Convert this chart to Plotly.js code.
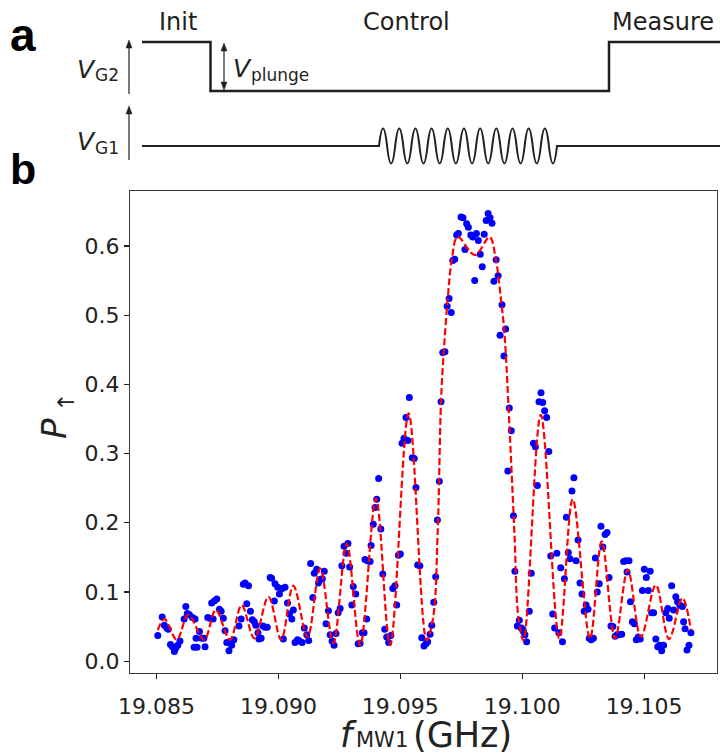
<!DOCTYPE html>
<html>
<head>
<meta charset="utf-8">
<script src="https://cdn.plot.ly/plotly-3.0.1.min.js"></script>
<style>html,body{margin:0;padding:0;background:#fff;}#chart{width:720px;height:755px;}</style>
</head>
<body>
<div id="chart"></div>
<script>
// ---------- measured data (panel b) ----------
const freqGHz = [
 19.08505,19.08523,19.08532,19.08542,19.08548,19.08557,19.08565,19.08573,19.08579,19.08587,
 19.08596,19.08613,19.08620,19.08626,19.08635,19.08647,19.08654,19.08658,19.08662,19.08666,
 19.08676,19.08685,19.08694,19.08699,19.08710,19.08718,19.08726,19.08732,19.08737,19.08747,
 19.08758,19.08765,19.08774,19.08781,19.08788,19.08797,19.08799,19.08808,19.08817,19.08838,
 19.08847,19.08856,19.08863,19.08870,19.08877,19.08885,19.08893,19.08901,19.08907,19.08916,
 19.08920,19.08929,19.08936,19.08945,19.08954,19.08966,19.08972,19.08983,19.08986,19.08997,
 19.09004,
 19.09015,19.09020,19.09027,19.09037,19.09045,19.09055,19.09061,19.09068,19.09078,19.09086,
 19.09097,19.09106,19.09116,19.09124,19.09132,19.09141,19.09147,19.09157,19.09164,19.09171,
 19.09180,19.09188,19.09195,19.09205,19.09212,19.09220,19.09228,19.09236,19.09245,19.09253,
 19.09260,19.09269,19.09277,19.09285,19.09292,19.09301,19.09307,19.09317,19.09327,19.09335,
 19.09344,19.09351,19.09355,19.09362,19.09365,19.09376,19.09380,19.09389,19.09396,19.09403,
 19.09411,19.09420,19.09428,19.09436,19.09444,19.09452,19.09461,19.09469,19.09478,19.09485,
 19.09492,19.09500,19.09507,19.09515,19.09523,19.09531,19.09537,
 19.09549,19.09557,19.09564,19.09571,19.09580,19.09588,19.09597,19.09605,19.09612,19.09622,
 19.09629,19.09637,19.09645,19.09652,19.09660,19.09667,19.09674,19.09683,19.09692,19.09700,
 19.09709,19.09715,19.09723,19.09731,19.09738,19.09749,19.09757,19.09765,19.09772,19.09779,
 19.09789,19.09797,19.09805,19.09812,19.09820,19.09828,19.09836,19.09844,19.09852,19.09860,
 19.09868,19.09876,19.09884,19.09893,19.09901,19.09909,19.09917,19.09925,19.09932,19.09941,
 19.09947,19.09955,19.09964,19.09970,19.09980,19.09988,19.09996,19.10002,19.10005,
 19.10011,19.10018,19.10029,19.10037,19.10046,19.10054,19.10062,19.10069,19.10077,19.10084,
 19.10092,19.10100,19.10109,19.10117,19.10125,19.10133,19.10142,19.10150,19.10158,19.10165,
 19.10173,19.10181,19.10189,19.10196,19.10204,19.10212,19.10221,19.10229,19.10237,19.10245,
 19.10254,19.10262,19.10270,19.10275,19.10283,19.10292,19.10300,19.10308,19.10316,19.10323,
 19.10331,19.10340,19.10348,19.10356,19.10364,19.10372,19.10381,19.10389,
 19.10397,19.10408,19.10416,19.10425,19.10430,19.10438,19.10444,19.10452,19.10460,19.10468,
 19.10476,19.10484,19.10493,19.10501,19.10509,19.10517,19.10525,19.10531,19.10539,19.10548,
 19.10556,19.10564,19.10572,19.10580,19.10589,19.10597,19.10603,19.10613,19.10621,19.10630,
 19.10637,19.10646,19.10657,19.10662,19.10668,19.10676,19.10684,19.10692
];
const pUp = [
 0.037,0.064,0.052,0.048,0.046,0.024,0.021,0.014,0.019,0.023,
 0.029,0.061,0.079,0.069,0.067,0.063,0.020,0.061,0.033,0.020,
 0.043,0.033,0.033,0.021,0.063,0.062,0.084,0.061,0.087,0.090,
 0.075,0.072,0.062,0.044,0.027,0.015,0.028,0.023,0.031,0.051,
 0.061,0.111,0.113,0.083,0.109,0.072,0.060,0.057,0.052,0.041,
 0.032,0.033,0.051,0.049,0.049,0.121,0.120,0.087,0.112,0.107,
 0.097,
 0.105,0.032,0.107,0.084,0.068,0.061,0.074,0.027,0.031,0.029,
 0.027,0.048,0.038,0.030,0.141,0.092,0.127,0.133,0.113,0.118,
 0.119,0.130,0.054,0.073,0.038,0.029,0.023,0.040,0.070,0.076,
 0.138,0.166,0.156,0.170,0.136,0.081,0.108,0.097,0.025,0.026,
 0.041,0.041,0.147,0.061,0.145,0.144,0.167,0.198,0.222,0.234,
 0.264,0.191,0.126,0.046,0.035,0.027,0.037,0.105,0.109,0.081,
 0.153,0.155,0.315,0.322,0.352,0.319,0.381,
 0.294,0.293,0.251,0.139,0.138,0.034,0.022,0.025,0.028,0.039,
 0.052,0.085,0.122,0.204,0.260,0.375,0.446,0.447,0.513,0.524,
 0.504,0.579,0.581,0.616,0.618,0.642,0.641,0.595,0.632,0.627,
 0.616,0.613,0.550,0.618,0.608,0.588,0.570,0.617,0.637,0.647,
 0.641,0.633,0.549,0.580,0.557,0.471,0.515,0.441,0.480,0.275,
 0.366,0.333,0.210,0.130,0.051,0.059,0.048,0.046,0.043,
 0.038,0.028,0.072,0.127,0.315,0.310,0.254,0.375,0.388,0.374,
 0.362,0.352,0.303,0.152,0.068,0.048,0.156,0.041,0.135,0.028,
 0.119,0.208,0.157,0.148,0.246,0.265,0.145,0.175,0.113,0.097,
 0.072,0.081,0.075,0.033,0.031,0.033,0.149,0.100,0.112,0.195,
 0.165,0.183,0.186,0.121,0.051,0.050,0.036,0.038,
 0.038,0.039,0.144,0.145,0.129,0.145,0.086,0.057,0.054,0.031,
 0.035,0.032,0.102,0.133,0.121,0.102,0.130,0.070,0.070,0.032,
 0.021,0.023,0.015,0.023,0.070,0.076,0.062,0.109,0.074,0.093,
 0.086,0.081,0.079,0.057,0.047,0.016,0.023,0.041
];
// fit curve (peaks, troughs and flank points)
const fitGHz = [
 19.08505,19.08532,19.08583,19.08630,19.08695,19.08743,19.08801,19.08849,19.08901,19.08959,
 19.09011,19.09061,19.09119,19.09171,19.09225,19.09280,19.09335,19.09400,19.09458,19.09534,
 19.09608,19.09635,19.09653,19.09667,19.09678,19.09694,19.09711,19.09735,19.09806,19.09866,
 19.09892,19.09913,19.09927,19.09949,19.09968,19.09984,19.10005,19.10076,19.10152,19.10207,
 19.10278,19.10326,19.10381,19.10433,19.10487,19.10548,19.10602,19.10657,19.10692
];
const fitP = [
 0.045,0.061,0.031,0.067,0.031,0.074,0.031,0.081,0.033,0.093,
 0.031,0.109,0.035,0.134,0.026,0.170,0.023,0.235,0.023,0.358,
 0.030,0.064,0.185,0.377,0.447,0.522,0.580,0.613,0.587,0.613,
 0.580,0.522,0.474,0.329,0.185,0.064,0.030,0.356,0.033,0.234,
 0.033,0.173,0.033,0.132,0.035,0.110,0.032,0.091,0.045
];
const xTickVals = [19.085, 19.090, 19.095, 19.100, 19.105];
const xTickText = ["19.085", "19.090", "19.095", "19.100", "19.105"];
const yTickVals = [0.0, 0.1, 0.2, 0.3, 0.4, 0.5, 0.6];
const yTickText = ["0.0", "0.1", "0.2", "0.3", "0.4", "0.5", "0.6"];
const phaseLabels = ["Init", "Control", "Measure"];

// ---------- layout helpers (figure pixels -> paper coords) ----------
const W = 720, H = 755;
const PL = 130, PR = 717, PT = 191, PB = 673;
const fx = x => (x - PL) / (PR - PL);
const fy = y => (PB - y) / (PB - PT);
const pathOf = (pts, close) => pts.map((p, i) => (i ? 'L' : 'M') + fx(p[0]).toFixed(5) + ',' + fy(p[1]).toFixed(5)).join(' ') + (close ? ' Z' : '');
const INK = '#231f20';
const FONT = 'DejaVu Sans, Verdana, sans-serif';

// schematic gate-voltage pulses (panel a drawing)
const vg2Path = pathOf([[142, 42], [210.5, 42], [210.5, 91], [609, 91], [609, 42], [721, 42]]);
let wave = 'M' + fx(142) + ',' + fy(146) + ' L' + fx(379) + ',' + fy(146);
{
  const x0 = 379, x1 = 557, n = 22, h = (x1 - x0) / n, A = 35;
  wave += ' Q' + fx(x0 + h / 2) + ',' + fy(146 - A) + ' ' + fx(x0 + h) + ',' + fy(146);
  for (let k = 2; k <= n; k++) wave += ' T' + fx(x0 + k * h) + ',' + fy(146);
  wave += ' L' + fx(721) + ',' + fy(146);
}

const seg = (x0, y0, x1, y1, w) => ({type: 'line', xref: 'paper', yref: 'paper',
  x0: fx(x0), y0: fy(y0), x1: fx(x1), y1: fy(y1), line: {color: INK, width: w}});
const headUp = (x, y) => ({type: 'path', xref: 'paper', yref: 'paper',
  path: pathOf([[x, y], [x - 3, y + 8], [x + 3, y + 8]], true), fillcolor: INK, line: {color: INK, width: 0.5}});
const headDown = (x, y) => ({type: 'path', xref: 'paper', yref: 'paper',
  path: pathOf([[x, y], [x - 3, y - 8], [x + 3, y - 8]], true), fillcolor: INK, line: {color: INK, width: 0.5}});

const shapes = [
  {type: 'path', xref: 'paper', yref: 'paper', path: vg2Path, line: {color: INK, width: 2.5}},
  {type: 'path', xref: 'paper', yref: 'paper', path: wave, line: {color: INK, width: 2}},
  seg(129, 94, 129, 46, 1.2), headUp(129, 40),
  seg(129, 160, 129, 112, 1.2), headUp(129, 106),
  seg(224, 50, 224, 84, 1.2), headUp(224, 43), headDown(224, 90)
];

const ann = (x, y, text, size, opts) => Object.assign({
  xref: 'paper', yref: 'paper', x: fx(x), y: fy(y), text: text, showarrow: false,
  xanchor: 'center', yanchor: 'middle', borderpad: 0, font: {family: FONT, size: size, color: INK}
}, opts || {});
const BOLD = 'Liberation Sans, Arial, sans-serif';

const annotations = [
  ann(23, 35, '<b>a</b>', 46, {font: {family: BOLD, size: 46, color: '#000'}}),
  ann(23, 169, '<b>b</b>', 43, {font: {family: BOLD, size: 43, color: '#000'}}),
  ann(178, 22, phaseLabels[0], 24),
  ann(406, 22, phaseLabels[1], 24),
  ann(663, 22, phaseLabels[2], 24),
  // gate labels: italic V with a smaller subscript drawn beside it
  ann(97, 69, '<i>V</i>', 25, {xanchor: 'right'}),
  ann(94, 75, 'G2', 17, {xanchor: 'left'}),
  ann(97, 142, '<i>V</i>', 25, {xanchor: 'right'}),
  ann(94, 148, 'G1', 17, {xanchor: 'left'}),
  ann(232, 68, '<i>V</i>', 25, {xanchor: 'left'}),
  ann(250, 75, 'plunge', 17, {xanchor: 'left'}),
  // axis titles (main symbol + subscript)
  ann(348, 735, '<i>f</i>', 35, {font: {family: FONT, size: 35, color: '#222'}}),
  ann(355, 740, 'MW1', 21, {xanchor: 'left', font: {family: FONT, size: 21, color: '#222'}}),
  ann(412, 735, '(GHz)', 35, {xanchor: 'left', font: {family: FONT, size: 35, color: '#222'}}),
  ann(54, 429, '<i>P</i>', 34, {textangle: -90, font: {family: FONT, size: 34, color: '#222'}}),
  ann(66, 403, '↑', 23, {textangle: -90, font: {family: FONT, size: 23, color: '#222'}})
];

const traces = [
  {
    type: 'scatter', mode: 'markers', x: freqGHz, y: pUp, name: 'data',
    marker: {color: '#0000ff', size: 7, line: {width: 0}}, hoverinfo: 'x+y'
  },
  {
    type: 'scatter', mode: 'lines', x: fitGHz, y: fitP, name: 'fit',
    line: {color: '#ff0000', width: 2.2, dash: '7px,3px', shape: 'spline', smoothing: 1}
  }
];

const axisCommon = {
  showgrid: false, zeroline: false, showline: true, mirror: true,
  linecolor: '#3a3a3a', linewidth: 1.2, ticks: 'outside', ticklen: 5, tickwidth: 1.2, tickcolor: '#222',
  tickfont: {family: FONT, size: 22, color: '#222'}
};

const layout = {
  width: W, height: H,
  margin: {l: PL, r: W - PR, t: PT, b: H - PB, pad: 0},
  paper_bgcolor: '#fff', plot_bgcolor: '#fff', showlegend: false,
  xaxis: Object.assign({}, axisCommon, {
    range: [19.08391, 19.10799], tickmode: 'array', tickvals: xTickVals, ticktext: xTickText,
    ticklabelstandoff: 8
  }),
  yaxis: Object.assign({}, axisCommon, {
    range: [-0.0171, 0.6795], tickmode: 'array', tickvals: yTickVals, ticktext: yTickText
  }),
  shapes: shapes,
  annotations: annotations
};

Plotly.newPlot('chart', traces, layout, {displayModeBar: false, staticPlot: true});
</script>
</body>
</html>
